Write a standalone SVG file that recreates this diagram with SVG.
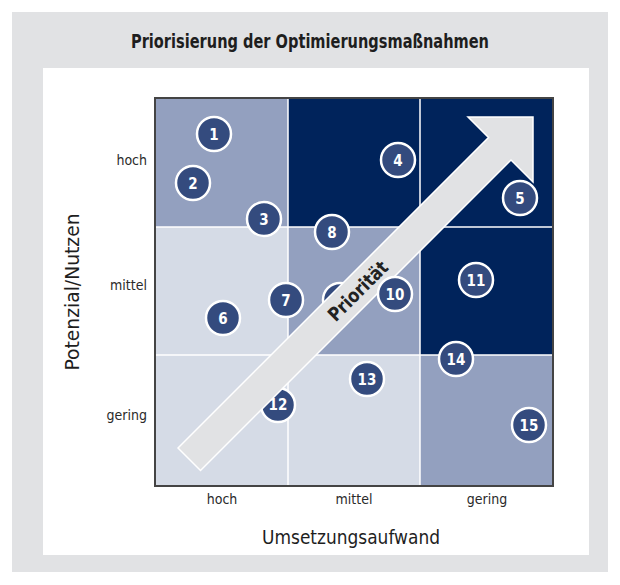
<svg xmlns="http://www.w3.org/2000/svg" width="620" height="585" viewBox="0 0 620 585">
<style>
.f{font-family:"Liberation Sans Narrow","DejaVu Sans Condensed","Liberation Sans",sans-serif;font-stretch:condensed}
.lab{font-size:14px;fill:#2a2a2a}
.ax{font-size:19px;fill:#1e1e1e}
.c{fill:#344B7E;stroke:#fff;stroke-width:2.5}
.n{font-size:15px;font-weight:bold;fill:#fff;text-anchor:middle}
.lo{fill:#D5DBE6}.me{fill:#93A0BF}.dk{fill:#00235B}
.gl{stroke:#fff;stroke-width:1.5}
</style>
<rect x="12" y="12" width="596" height="560" fill="#E1E2E4"/>
<rect x="43" y="68" width="546" height="487" fill="#fff"/>
<text class="f" x="310" y="48" text-anchor="middle" font-size="19" font-weight="bold" fill="#1e1e1e" textLength="358" lengthAdjust="spacingAndGlyphs">Priorisierung der Optimierungsmaßnahmen</text>
<g id="grid">
<rect class="me" x="155" y="98" width="133" height="129"/>
<rect class="dk" x="288" y="98" width="265" height="129"/>
<rect class="lo" x="155" y="227" width="133" height="128"/>
<rect class="me" x="288" y="227" width="132" height="128"/>
<rect class="dk" x="420" y="227" width="133" height="128"/>
<rect class="lo" x="155" y="355" width="265" height="131"/>
<rect class="me" x="420" y="355" width="133" height="131"/>
<line class="gl" x1="288" y1="98" x2="288" y2="486"/>
<line class="gl" x1="420" y1="98" x2="420" y2="486"/>
<line class="gl" x1="155" y1="227" x2="553" y2="227"/>
<line class="gl" x1="155" y1="355" x2="553" y2="355"/>
<rect x="155" y="98" width="398" height="388" fill="none" stroke="#444" stroke-width="2"/>
</g>
<g class="f lab" text-anchor="end">
<text x="147" y="165">hoch</text>
<text x="147" y="290">mittel</text>
<text x="147" y="420">gering</text>
</g>
<g class="f lab" text-anchor="middle">
<text x="222" y="504">hoch</text>
<text x="354" y="504">mittel</text>
<text x="487" y="504">gering</text>
</g>
<text class="f ax" x="351" y="544" text-anchor="middle" textLength="178" lengthAdjust="spacingAndGlyphs">Umsetzungsaufwand</text>
<text class="f ax" transform="translate(79,292) rotate(-90)" text-anchor="middle" textLength="157" lengthAdjust="spacingAndGlyphs">Potenzial/Nutzen</text>
<g id="n9"><circle class="c" cx="340" cy="300" r="17"/><text class="f n" x="340" y="305">9</text></g>
<g id="n12"><circle class="c" cx="278" cy="405" r="17"/><text class="f n" x="278" y="410">12</text></g>
<g id="arrow">
<polygon points="178,448 488.5,137.5 468,117 533,117 533,182 511,160 200.5,470.5" fill="#E1E2E4" stroke="#fff" stroke-width="1.5" stroke-linejoin="miter"/>
<text class="f" transform="translate(358,291) rotate(-45)" text-anchor="middle" dy="6.5" font-size="19" font-weight="bold" fill="#222" textLength="76" lengthAdjust="spacingAndGlyphs">Priorität</text>
</g>
<g id="n1"><circle class="c" cx="214" cy="134" r="17"/><text class="f n" x="214" y="139.5">1</text></g>
<g id="n2"><circle class="c" cx="193" cy="183" r="17"/><text class="f n" x="193" y="188.5">2</text></g>
<g id="n3"><circle class="c" cx="264" cy="219" r="17"/><text class="f n" x="264" y="224.5">3</text></g>
<g id="n4"><circle class="c" cx="398" cy="160" r="17"/><text class="f n" x="398" y="165.5">4</text></g>
<g id="n5"><circle class="c" cx="520" cy="198" r="17"/><text class="f n" x="520" y="203.5">5</text></g>
<g id="n6"><circle class="c" cx="223" cy="318" r="17"/><text class="f n" x="223" y="323.5">6</text></g>
<g id="n7"><circle class="c" cx="286" cy="300" r="17"/><text class="f n" x="286" y="305.5">7</text></g>
<g id="n8"><circle class="c" cx="332" cy="232" r="17"/><text class="f n" x="332" y="237.5">8</text></g>
<g id="n10"><circle class="c" cx="395" cy="294" r="17"/><text class="f n" x="395" y="299.5">10</text></g>
<g id="n11"><circle class="c" cx="476" cy="280" r="17"/><text class="f n" x="476" y="285.5">11</text></g>
<g id="n13"><circle class="c" cx="367" cy="379" r="17"/><text class="f n" x="367" y="384.5">13</text></g>
<g id="n14"><circle class="c" cx="456" cy="359" r="17"/><text class="f n" x="456" y="364.5">14</text></g>
<g id="n15"><circle class="c" cx="529" cy="425" r="17"/><text class="f n" x="529" y="430.5">15</text></g>
<g id="connectors"/>
</svg>
